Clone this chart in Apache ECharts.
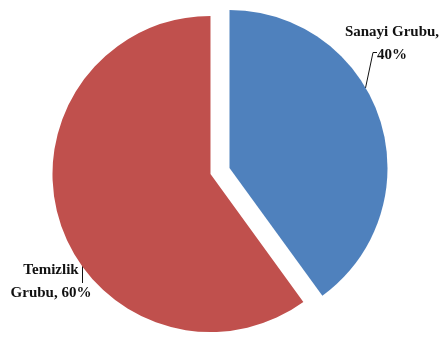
<!DOCTYPE html>
<html>
<head>
<meta charset="utf-8">
<script src="https://cdn.jsdelivr.net/npm/echarts@6/dist/echarts.min.js"></script>
<style>
  html, body { margin: 0; padding: 0; background: #fff; }
  #pie { width: 439px; height: 343px; }
</style>
</head>
<body>
<div id="pie"></div>
<script>
var names = ['Sanayi Grubu', 'Temizlik Grubu']
var values = [40, 60]
var labelTexts = ['Sanayi Grubu,\n40%', 'Temizlik\nGrubu, 60%']
var colors = ['#4F81BD', '#C0504D']

var myChart = echarts.init(document.getElementById('pie'))
var data = []
for (var i = 0; i < names.length; i++) {
  data.push({
    name: names[i],
    value: values[i],
    selected: true,
    itemStyle: { color: colors[i] }
  })
}

// label text + leader line, placed like the original picture
var labelFont = {
  fontFamily: 'Liberation Serif',
  fontWeight: 'bold',
  fontSize: 15,
  lineHeight: 23,
  fill: '#111111',
  align: 'center',
  verticalAlign: 'top'
}
function labelText(idx, x, y) {
  return {
    type: 'text',
    x: x,
    y: y,
    silent: true,
    style: Object.assign({ text: labelTexts[idx] }, labelFont)
  }
}

myChart.setOption({
  backgroundColor: '#ffffff',
  animation: false,
  series: [
    {
      type: 'pie',
      center: [220, 171],
      radius: 158,
      startAngle: 90,
      clockwise: true,
      selectedMode: 'multiple',
      selectedOffset: 10,
      data: data,
      label: { show: false },
      labelLine: { show: false }
    }
  ],
  graphic: [
    labelText(0, 392, 21),
    labelText(1, 51, 259),
    {
      type: 'polyline',
      silent: true,
      shape: { points: [[365.5, 88], [373, 52.5], [377, 52.5]] },
      style: { stroke: '#111', lineWidth: 1, fill: null }
    },
    {
      type: 'polyline',
      silent: true,
      shape: { points: [[82.5, 262], [82.5, 283]] },
      style: { stroke: '#111', lineWidth: 1, fill: null }
    }
  ]
})
</script>
</body>
</html>
